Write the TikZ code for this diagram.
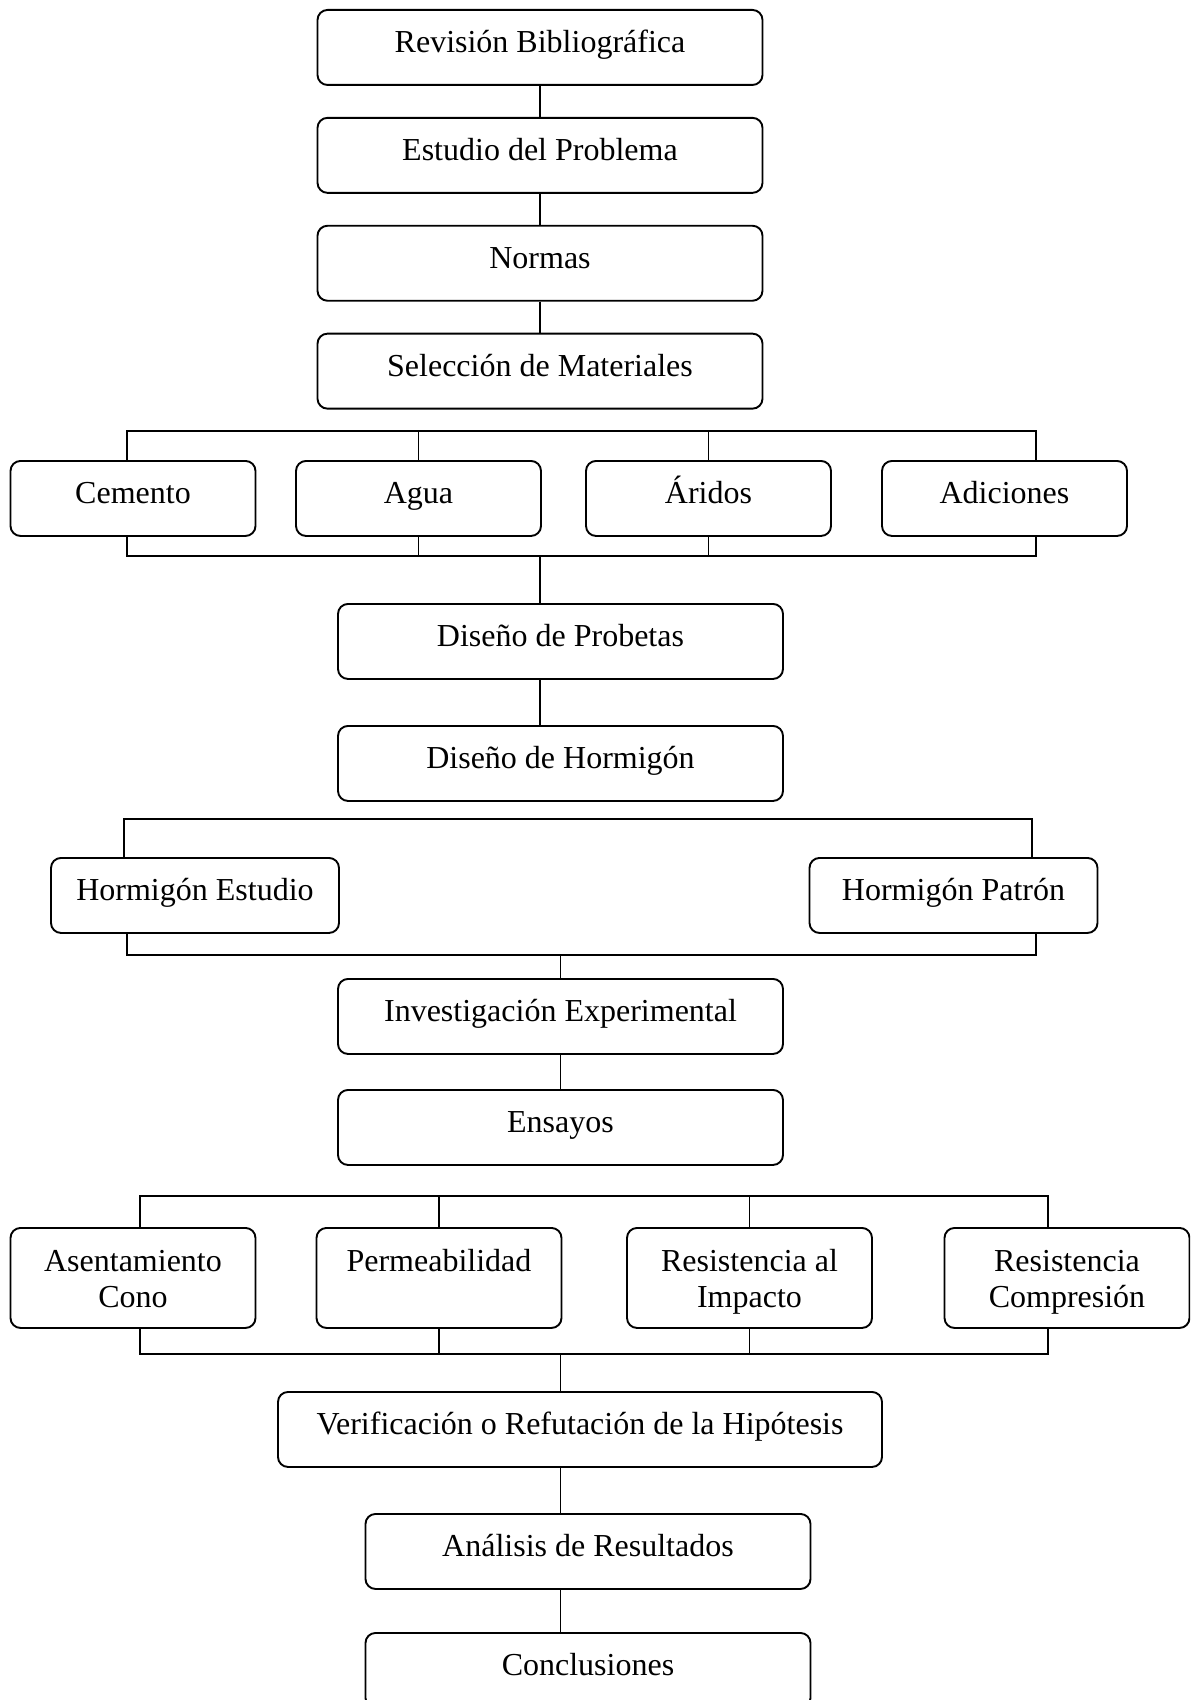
\documentclass[tikz,border=0pt]{standalone}
\usepackage{fontspec}
\setmainfont{Liberation Serif}
\usetikzlibrary{positioning}

\begin{document}
\begin{tikzpicture}[
  x=0.5pt, y=-0.5pt,
  font=\fontsize{16}{18}\selectfont,
  line width=0.95pt,
  node distance=15.5pt,
  stage/.style={draw, rounded corners=5pt, anchor=north, inner sep=0pt,
                minimum width=222.5pt, text height=21.5pt, text depth=16pt,
                align=center},
  item/.style={stage, minimum width=122.5pt},
  hormigon/.style={stage, minimum width=144pt},
  ensayo/.style={stage, minimum width=122.5pt, text height=22pt, text depth=28pt},
  ensayodos/.style={ensayo, text height=40pt, text depth=10pt}
]
  \useasboundingbox (0,0) rectangle (1190,1700);
  \clip (0,0) rectangle (1190,1700);

  % main column
  \node[stage] (rev) at (540,9) {Revisión Bibliográfica};
  \node[stage, below=of rev] (est) {Estudio del Problema};
  \node[stage, below=of est] (nor) {Normas};
  \node[stage, below=of nor] (sel) {Selección de Materiales};

  % materiales
  \node[item] (cem) at (133,460) {Cemento};
  \node[item] (agu) at (418.5,460) {Agua};
  \node[item] (ari) at (708.5,460) {Áridos};
  \node[item] (adi) at (1004.5,460) {Adiciones};

  \node[stage] (dpr) at (560.5,603) {Diseño de Probetas};
  \node[stage] (dho) at (560.5,725) {Diseño de Hormigón};

  \node[hormigon] (hes) at (195,857) {Hormigón Estudio};
  \node[hormigon] (hpa) at (953.5,857) {Hormigón Patrón};

  \node[stage] (inv) at (560.5,978) {Investigación Experimental};
  \node[stage] (ens) at (560.5,1089) {Ensayos};

  % ensayos
  \node[ensayodos] (ase) at (133,1227) {Asentamiento\\Cono};
  \node[ensayo] (per) at (439,1227) {Permeabilidad};
  \node[ensayodos] (imp) at (749.5,1227) {Resistencia al\\Impacto};
  \node[ensayodos] (com) at (1067,1227) {Resistencia\\Compresión};

  \node[stage, minimum width=302pt] (ver) at (580,1391) {Verificación o Refutación de la Hipótesis};
  \node[stage] (ana) at (588,1513) {Análisis de Resultados};
  \node[stage] (con) at (588,1632) {Conclusiones};

  \draw (rev) -- (est);
  \draw (est) -- (nor);
  \draw (nor) -- (sel);

  \coordinate (m1l) at (127,431);
  \coordinate (m1r) at (1036,431);
  \coordinate (m2l) at (127,556);
  \coordinate (m2r) at (1036,556);
  \draw (cem.north -| m1l) -- (m1l) -- (m1r) -- (adi.north -| m1r);
  \draw (cem.south -| m2l) -- (m2l) -- (m2r) -- (adi.south -| m2r);
  \foreach \n in {agu,ari} {
    \draw (\n.north) -- (\n.north |- m1l);
    \draw (\n.south) -- (\n.south |- m2l);
  }
  \draw (m2l -| sel.south) -- (dpr.north -| sel.south);
  \draw (dpr.south -| sel.south) -- (dho.north -| sel.south);

  \coordinate (h1l) at (124,819);
  \coordinate (h1r) at (1032,819);
  \coordinate (h2l) at (127,955);
  \coordinate (h2r) at (1036,955);
  \draw (hes.north -| h1l) -- (h1l) -- (h1r) -- (hpa.north -| h1r);
  \draw (hes.south -| h2l) -- (h2l) -- (h2r) -- (hpa.south -| h2r);
  \draw (h2l -| inv.north) -- (inv.north);
  \draw (inv) -- (ens);

  \coordinate (e1l) at (140,1196);
  \coordinate (e1r) at (1048,1196);
  \coordinate (e2l) at (140,1354);
  \coordinate (e2r) at (1048,1354);
  \draw (ase.north -| e1l) -- (e1l) -- (e1r) -- (com.north -| e1r);
  \draw (ase.south -| e2l) -- (e2l) -- (e2r) -- (com.south -| e2r);
  \foreach \n in {per,imp} {
    \draw (\n.north) -- (\n.north |- e1l);
    \draw (\n.south) -- (\n.south |- e2l);
  }
  \draw (e2l -| inv.south) -- (ver.north -| inv.south);
  \draw (ver.south -| inv.south) -- (ana.north -| inv.south);
  \draw (ana.south -| inv.south) -- (con.north -| inv.south);
\end{tikzpicture}
\end{document}
